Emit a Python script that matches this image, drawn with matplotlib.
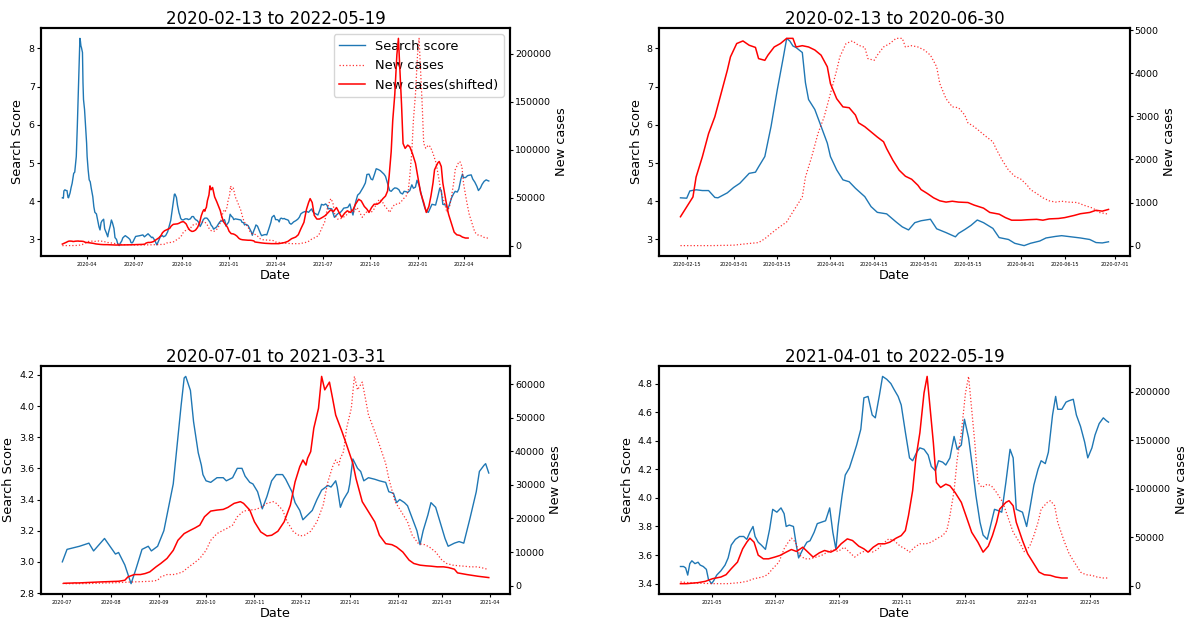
import matplotlib.pyplot as plt
import numpy as np
import pandas as pd

start = pd.Timestamp("2020-02-13")

# search score, keyed by days after 2020-02-13
score_day = [
    0, 2, 3, 5, 7, 9, 11, 12, 15, 17, 19, 22, 24, 25, 27, 29, 31, 33, 34, 35,
    36, 37, 39, 40, 41, 43, 45, 47, 48, 50, 52, 54, 56, 59, 61, 63, 66, 69, 71, 73,
    75, 77, 80, 82, 85, 88, 89, 91, 93, 95, 97, 100, 102, 105, 107, 110, 112, 115, 117, 120,
    122, 125, 128, 131, 133, 135, 137,
    139, 142, 146, 150, 156, 159, 166, 173, 175, 179, 183, 186, 190, 194, 196, 200, 204, 207, 210, 212,
    215, 217, 218, 221, 223, 226, 228, 229, 231, 234, 238, 242, 244, 248, 251, 254, 256, 259, 261, 264,
    266, 267, 270, 273, 276, 280, 282, 286, 288, 291, 293, 296, 299, 302, 305, 309, 311, 314, 315, 317,
    319, 322, 323, 325, 328, 330, 332, 335, 339, 342, 346, 348, 351, 353, 355, 358, 360, 363, 366, 368,
    370, 373, 375, 378, 381, 384, 386, 390, 393, 396, 398, 400, 404, 406, 409, 410, 412,
    413, 416, 418, 420, 422, 424, 427, 430, 432, 435, 438, 440, 443, 445, 448, 452, 456, 459, 462, 466,
    470, 474, 477, 480, 483, 485, 488, 491, 495, 499, 502, 506, 510, 513, 515, 518, 522, 525, 527, 531,
    535, 538, 542, 545, 549, 553, 557, 560, 563, 565, 569, 572, 576, 580, 583, 587, 590, 594, 598, 601,
    605, 608, 612, 616, 619, 623, 626, 630, 634, 637, 641, 644, 648, 652, 655, 659, 662, 666, 669, 673,
    677, 680, 684, 687, 691, 695, 698, 702, 705, 709, 713, 716, 720, 723, 727, 731, 734, 737, 740, 743,
    747, 750, 754, 758, 761, 765, 768, 772, 775, 777, 781, 785, 788, 792, 795, 799, 803, 806, 810, 813,
    817, 821, 824, 826,
]
score_val = [
    4.09, 4.08, 4.27, 4.30, 4.28, 4.28, 4.10, 4.09, 4.22, 4.36, 4.47, 4.73, 4.76, 4.90, 5.17, 5.96, 6.92, 7.80, 8.26, 8.19,
    8.06, 8.02, 7.89, 7.10, 6.66, 6.40, 5.96, 5.52, 5.17, 4.82, 4.56, 4.51, 4.34, 4.12, 3.86, 3.71, 3.67, 3.46, 3.33, 3.25,
    3.44, 3.49, 3.53, 3.28, 3.18, 3.07, 3.16, 3.26, 3.37, 3.51, 3.44, 3.29, 3.05, 3.00, 2.90, 2.84, 2.90, 2.96, 3.04, 3.08,
    3.10, 3.07, 3.04, 3.00, 2.92, 2.91, 2.94,
    3.00, 3.08, 3.09, 3.10, 3.12, 3.07, 3.15, 3.05, 3.06, 2.98, 2.86, 2.95, 3.08, 3.10, 3.07, 3.10, 3.20, 3.35, 3.50, 3.70,
    4.00, 4.18, 4.19, 4.10, 3.90, 3.70, 3.62, 3.56, 3.52, 3.51, 3.54, 3.54, 3.52, 3.54, 3.60, 3.60, 3.55, 3.51, 3.50, 3.45,
    3.38, 3.34, 3.42, 3.52, 3.56, 3.56, 3.53, 3.45, 3.38, 3.33, 3.27, 3.30, 3.33, 3.40, 3.46, 3.49, 3.48, 3.52, 3.48, 3.35,
    3.40, 3.45, 3.50, 3.66, 3.60, 3.58, 3.52, 3.54, 3.53, 3.52, 3.51, 3.45, 3.44, 3.38, 3.40, 3.38, 3.36, 3.28, 3.20, 3.11,
    3.20, 3.30, 3.38, 3.35, 3.25, 3.15, 3.10, 3.12, 3.13, 3.12, 3.20, 3.28, 3.45, 3.58, 3.62, 3.63, 3.57,
    3.52, 3.52, 3.51, 3.46, 3.54, 3.56, 3.54, 3.55, 3.53, 3.52, 3.50, 3.43, 3.40, 3.42, 3.46, 3.49, 3.53, 3.58, 3.67, 3.71,
    3.73, 3.73, 3.71, 3.76, 3.80, 3.73, 3.69, 3.67, 3.64, 3.78, 3.92, 3.90, 3.93, 3.89, 3.80, 3.81, 3.80, 3.66, 3.58, 3.64,
    3.69, 3.70, 3.76, 3.82, 3.83, 3.84, 3.93, 3.76, 3.64, 3.80, 4.02, 4.16, 4.21, 4.30, 4.37, 4.48, 4.70, 4.71, 4.58, 4.56,
    4.72, 4.85, 4.83, 4.80, 4.76, 4.71, 4.65, 4.46, 4.28, 4.26, 4.32, 4.35, 4.34, 4.30, 4.22, 4.19, 4.26, 4.25, 4.23, 4.28,
    4.43, 4.34, 4.37, 4.55, 4.42, 4.20, 4.02, 3.83, 3.74, 3.71, 3.83, 3.92, 3.91, 3.90, 4.11, 4.34, 4.28, 3.92, 3.91, 3.90,
    3.80, 3.92, 4.09, 4.20, 4.26, 4.24, 4.32, 4.58, 4.71, 4.62, 4.62, 4.67, 4.68, 4.69, 4.58, 4.50, 4.39, 4.28, 4.35, 4.44,
    4.52, 4.56, 4.54, 4.53,
]

# daily new cases (7-day smoothed), keyed by days after 2020-02-13
cases_day = [
    0, 10, 17, 22, 25, 27, 29, 31, 34, 35, 37, 39, 40, 42, 44, 46, 48, 50, 51, 53,
    55, 57, 59, 60, 62, 63, 65, 67, 69, 71, 72, 74, 76, 78, 80, 82, 83, 85, 87, 89,
    91, 92, 94, 96, 98, 100, 101, 103, 105, 107, 109, 111, 112, 114, 116, 118, 120, 122, 124, 127,
    129, 132, 134, 137, 139, 141, 144, 146, 149, 151, 153, 156, 158, 161, 163, 166, 168, 170, 172,
    184, 196, 200, 202, 206, 210, 213, 216, 220, 223, 227, 231, 234, 238, 242, 245, 248, 251, 255, 259,
    263, 266, 270, 274, 276, 280, 283, 287, 291, 294, 298, 302, 306, 309, 312, 314, 316, 317, 319, 321,
    324, 326, 328, 331, 333, 335, 339, 342, 346, 348, 352, 356, 360, 363, 367, 371, 374, 378, 382, 385,
    389, 393, 396, 400, 404, 407, 411,
    413, 419, 426, 433, 445, 453, 459, 470, 477, 484, 492, 497, 502, 508, 513, 517, 520, 524, 528, 533,
    538, 544, 549, 555, 560, 565, 571, 576, 581, 587, 592, 598, 603, 608, 614, 619, 625, 630, 634, 639,
    644, 650, 655, 661, 666, 670, 673, 677, 680, 684, 688, 691, 694, 697, 700, 704, 709, 713, 718, 724,
    729, 734, 740, 745, 750, 754, 758, 761, 767, 770, 774, 777, 783, 788, 794, 799, 804, 810, 815, 821,
    826,
]
cases_val = [
    0, 0, 10, 50, 70, 160, 280, 395, 550, 670, 900, 1130, 1590, 2060, 2600, 2990, 3530, 4070, 4380, 4690,
    4750, 4650, 4600, 4340, 4300, 4420, 4610, 4690, 4810, 4810, 4610, 4640, 4610, 4540, 4420, 4150, 3760, 3410, 3220, 3200,
    3030, 2850, 2760, 2640, 2520, 2410, 2250, 1980, 1750, 1610, 1540, 1400, 1300, 1210, 1110, 1040, 1010, 1030, 1010, 1000,
    940, 870, 770, 730, 650, 590, 590, 600, 610, 590, 620, 630, 650, 700, 740, 770, 820, 800, 840,
    1100, 1300, 1600, 2600, 3300, 3300, 3600, 4100, 5600, 6600, 8100, 10500, 13500, 15500, 16500, 17200, 18000, 20500, 22200, 22500,
    22700, 23300, 24500, 25000, 24500, 22500, 19000, 16000, 14800, 15000, 16200, 19000, 24000, 30900, 35400, 37400, 35900, 37900, 39900, 46900,
    52800, 62300, 58300, 60600, 55800, 50800, 45900, 41900, 36400, 31900, 25000, 22000, 19000, 15000, 12500, 12200, 11500, 10000, 7600, 6600,
    6100, 5900, 5800, 5600, 5600, 5400, 4900,
    3800, 3300, 2800, 2400, 2050, 2050, 2050, 3100, 4450, 7200, 8900, 11300, 17500, 24300, 38000, 44900, 49000, 44900, 31500, 27700,
    27700, 29500, 31200, 34600, 37300, 35300, 39700, 34600, 29500, 33900, 36300, 34600, 37300, 43200, 48300, 46600, 40800, 38000, 34600, 39700,
    43200, 43200, 44900, 49000, 51700, 56900, 72300, 98000, 130500, 157900, 199000, 216100, 181900, 147600, 106500, 101400, 104800, 103100, 96200, 86000,
    70600, 55100, 44900, 34600, 40800, 51700, 65400, 79100, 86000, 87700, 82500, 65400, 46600, 32900, 22600, 14000, 11300, 10600, 8900, 7900,
    7900,
]

titles = ["2020-02-13 to 2022-05-19", "2020-02-13 to 2020-06-30",
          "2020-07-01 to 2021-03-31", "2021-04-01 to 2022-05-19"]
windows = [(0, 826), (0, 138), (139, 412), (413, 826)]
lags = [40, 35, 21, 40]

score_day = np.array(score_day)
score_val = np.array(score_val)
cases_day = np.array(cases_day)
cases_val = np.array(cases_val)


def to_dates(days):
    return start + pd.to_timedelta(days, unit="D")


fig = plt.figure(figsize=(11.89, 6.18), dpi=100)
boxes = [
    [0.0345, 0.5858, 0.3945, 0.3689],
    [0.5543, 0.5858, 0.3960, 0.3689],
    [0.0345, 0.0388, 0.3945, 0.3689],
    [0.5543, 0.0388, 0.3960, 0.3689],
]

for i, (box, title, (d0, d1), lag) in enumerate(zip(boxes, titles, windows, lags)):
    ax = fig.add_axes(box)
    m = (score_day >= d0) & (score_day <= d1)
    l1, = ax.plot(to_dates(score_day[m]), score_val[m], color="tab:blue", lw=1, label="Search score")

    ax2 = ax.twinx()
    m = (cases_day >= d0) & (cases_day <= d1)
    l2, = ax2.plot(to_dates(cases_day[m]), cases_val[m], color="red", ls=":", lw=0.9,
                   alpha=0.8, label="New cases")
    shifted = cases_day - lag
    m = (shifted >= d0) & (shifted <= d1)
    l3, = ax2.plot(to_dates(shifted[m]), cases_val[m], color="red", lw=1.1,
                   label="New cases(shifted)")

    ax.set_title(title, fontsize=12, pad=2)
    ax.set_xlabel("Date", fontsize=9.3, labelpad=1)
    ax.set_ylabel("Search Score", fontsize=9.3, labelpad=3)
    ax2.set_ylabel("New cases", fontsize=9.3, labelpad=3)
    ax.tick_params(axis="x", labelsize=3.5, length=2.5, pad=2)
    ax.tick_params(axis="y", labelsize=6.8, length=3, pad=1.5)
    ax2.tick_params(axis="y", labelsize=6.8, length=2, pad=1.5)
    for a in (ax, ax2):
        for s in a.spines.values():
            s.set_linewidth(1.5)

    if i == 0:
        ax.legend([l1, l2, l3], [l1.get_label(), l2.get_label(), l3.get_label()],
                  loc="upper right", fontsize=9.3)

fig.savefig("out.png", dpi=100)
